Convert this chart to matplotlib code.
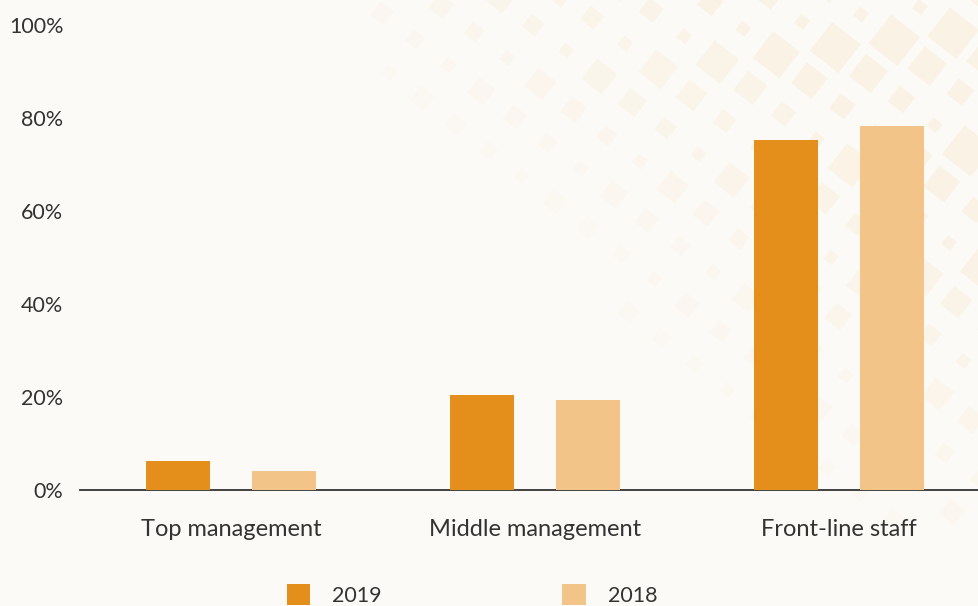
import numpy as np
import matplotlib.pyplot as plt
from matplotlib.patches import RegularPolygon, Patch

# Chart data
categories = ['Top management', 'Middle management', 'Front-line staff']
years = ['2019', '2018']
values_2019 = [6.2, 20.4, 75.2]
values_2018 = [4.1, 19.4, 78.3]
y_ticks = [0, 20, 40, 60, 80, 100]

c2019 = '#E48F1B'
c2018 = '#F2C487'
text_color = '#333333'

plt.rcParams['font.family'] = ['Lato', 'DejaVu Sans']

fig = plt.figure(figsize=(9.79, 6.06), dpi=100)
fig.patch.set_facecolor('#fcfaf6')

# decorative background of faint tilted squares (pixel coordinates)
bg = fig.add_axes([0, 0, 1, 1], zorder=0)
bg.set_xlim(0, 979)
bg.set_ylim(606, 0)
bg.axis('off')
ang = np.deg2rad(38)
u = np.array([np.cos(ang), np.sin(ang)])
v = np.array([-np.sin(ang), np.cos(ang)])
sp = 42
for i in range(-30, 40):
    for j in range(-30, 40):
        px, py = 979 + i * sp * u[0] + j * sp * v[0], 0 + i * sp * u[1] + j * sp * v[1]
        if px < 360 or px > 1000 or py < -20 or py > 520:
            continue
        # fade toward lower-left
        d = ((979 - px) * 0.75 + py * 0.9) / 620.0
        strength = max(0.0, 1.0 - d)
        if strength <= 0.12:
            continue
        size = 8 + 6 * ((i * 7 + j * 3) % 4) * min(1.0, strength * 1.3)
        bg.add_patch(RegularPolygon((px, py), 4, radius=size, orientation=ang + np.pi / 4,
                                    facecolor='#f7e2c2', edgecolor='none',
                                    alpha=0.32 * min(1.0, strength * 1.5)))

ax = fig.add_axes([80 / 979, 116 / 606, 899 / 979, 465 / 606], zorder=1)
ax.patch.set_alpha(0)

x = np.arange(len(categories))
off = 53 / 304
w = 64 / 304
ax.bar(x - off, values_2019, w, color=c2019, zorder=2)
ax.bar(x + off, values_2018, w, color=c2018, zorder=2)

ax.set_xlim(-151 / 304, 2 + 140 / 304)
ax.set_ylim(0, 100)
ax.set_yticks(y_ticks)
ax.set_yticklabels([f'{t}%' for t in y_ticks])
ax.set_xticks(x)
ax.set_xticklabels(categories)

for s in ['top', 'right', 'left']:
    ax.spines[s].set_visible(False)
ax.spines['bottom'].set_color('#333333')
ax.spines['bottom'].set_linewidth(1.3)
ax.spines['bottom'].set_zorder(1)
ax.tick_params(axis='both', length=0, colors=text_color)
ax.tick_params(axis='x', pad=21, labelsize=17)
ax.tick_params(axis='y', pad=12, labelsize=15.5)

handles = [Patch(facecolor=c2019), Patch(facecolor=c2018)]
fig.legend(handles, years, loc='center', bbox_to_anchor=(472 / 979, 11 / 606),
           ncol=2, frameon=False, fontsize=15.5, labelcolor=text_color,
           handlelength=1.1, handleheight=1.1, handletextpad=1.0,
           columnspacing=8.4, borderaxespad=0, borderpad=0)

fig.savefig('out.png', dpi=100, facecolor=fig.get_facecolor())
